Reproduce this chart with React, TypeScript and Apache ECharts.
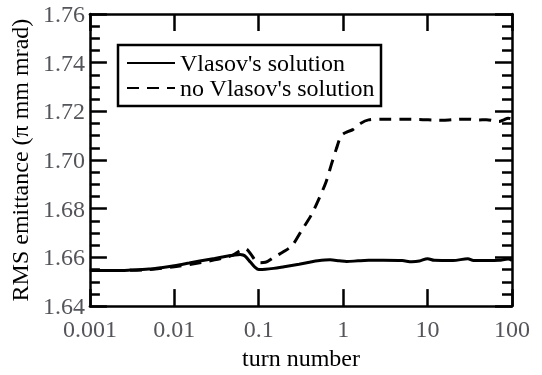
import React, { useEffect, useRef } from "react";
import * as echarts from "echarts";

// Turn numbers (log scale) and RMS emittance for both runs
const solidTurns = [0.001, 0.002, 0.003, 0.005, 0.007, 0.01, 0.015, 0.02, 0.03, 0.04, 0.05, 0.06, 0.065, 0.07, 0.08, 0.09, 0.1, 0.12, 0.15, 0.2, 0.3, 0.4, 0.5, 0.7, 0.9, 1.1, 1.5, 2, 3, 5, 6.5, 8, 10, 12, 20, 30, 35, 50, 70, 90, 100];
const solidEmittance = [1.6546, 1.6546, 1.6548, 1.6552, 1.6558, 1.6566, 1.6577, 1.6585, 1.6596, 1.6604, 1.6609, 1.6612, 1.661, 1.6603, 1.658, 1.656, 1.655, 1.6551, 1.6555, 1.6562, 1.6572, 1.658, 1.6586, 1.659, 1.6586, 1.6583, 1.6586, 1.6588, 1.6588, 1.6587, 1.6582, 1.6585, 1.6595, 1.6588, 1.6587, 1.6595, 1.6587, 1.6587, 1.6588, 1.6593, 1.6588];

const dashTurns = [0.001, 0.003, 0.005, 0.01, 0.02, 0.03, 0.04, 0.05, 0.06, 0.07, 0.08, 0.09, 0.1, 0.12, 0.15, 0.2, 0.25, 0.32, 0.42, 0.52, 0.63, 0.72, 0.83, 0.95, 1.1, 1.3, 1.6, 2, 3, 5, 8, 12, 15, 20, 30, 40, 50, 60, 70, 80, 90, 100];
const dashEmittance = [1.6546, 1.6547, 1.655, 1.6562, 1.6578, 1.659, 1.66, 1.661, 1.6628, 1.6635, 1.6615, 1.659, 1.6578, 1.658, 1.66, 1.6625, 1.665, 1.6709, 1.6775, 1.6843, 1.6912, 1.6978, 1.7046, 1.71, 1.7115, 1.7125, 1.715, 1.7165, 1.7168, 1.7168, 1.7167, 1.7164, 1.7163, 1.7166, 1.7168, 1.7165, 1.7166, 1.7162, 1.7158, 1.7165, 1.7172, 1.7168];

const xTickLabels = ["0.001", "0.01", "0.1", "1", "10", "100"];
const yTicks = [1.64, 1.66, 1.68, 1.7, 1.72, 1.74, 1.76];

const seriesNames = ["Vlasov's solution", "no Vlasov's solution"];

const INK = "#000";
const FONT = "serif";

export default function App() {
  const ref = useRef<HTMLDivElement>(null);

  useEffect(() => {
    if (!ref.current) return;
    const chart = echarts.init(ref.current, undefined, { renderer: "svg" });

    const axisLine = { show: true, lineStyle: { color: INK, width: 2.5 } };
    const tick = { show: true, inside: true, length: 17, lineStyle: { color: INK, width: 2.5 } };
    const yMinor = { show: true, splitNumber: 4, length: 10, lineStyle: { color: INK, width: 2.5 } };

    const xBase = {
      type: "log" as const,
      logBase: 10,
      min: 0.001,
      max: 100,
      axisLine,
      axisTick: tick,
      splitLine: { show: false },
    };
    const yBase = {
      type: "value" as const,
      min: yTicks[0],
      max: yTicks[yTicks.length - 1],
      interval: 0.02,
      axisLine,
      axisTick: tick,
      minorTick: yMinor,
      splitLine: { show: false },
    };

    chart.setOption({
      animation: false,
      grid: { left: 87, right: 30, top: 14, bottom: 66 },
      legend: {
        orient: "vertical",
        left: 118,
        top: 45,
        data: seriesNames,
        itemWidth: 48,
        itemHeight: 14,
        itemGap: 1,
        padding: [6, 6, 6, 8],
        borderColor: INK,
        borderWidth: 2.5,
        itemStyle: { opacity: 0 },
        textStyle: { fontFamily: FONT, fontSize: 24, color: INK },
      },
      xAxis: [
        {
          ...xBase,
          position: "bottom",
          name: "turn number",
          nameLocation: "middle",
          nameGap: 35,
          nameTextStyle: { fontFamily: FONT, fontSize: 24 },
          axisLabel: {
            fontFamily: FONT,
            fontSize: 24,
            margin: 11,
            formatter: (v: number) => xTickLabels[Math.round(Math.log10(v)) + 3] ?? "",
          },
        },
        { ...xBase, position: "top", axisLabel: { show: false } },
      ],
      yAxis: [
        {
          ...yBase,
          position: "left",
          name: "RMS emittance (π mm mrad)",
          nameLocation: "middle",
          nameGap: 52,
          nameTextStyle: { fontFamily: FONT, fontSize: 24 },
          axisLabel: {
            fontFamily: FONT,
            fontSize: 24,
            margin: 5,
            formatter: (v: number) => v.toFixed(2),
          },
        },
        { ...yBase, position: "right", axisLabel: { show: false } },
      ],
      series: [
        {
          name: seriesNames[0],
          type: "line",
          symbol: "none",
          smooth: 0.3,
          lineStyle: { color: INK, width: 3 },
          itemStyle: { color: INK },
          data: solidTurns.map((t, i) => [t, solidEmittance[i]]),
        },
        {
          name: seriesNames[1],
          type: "line",
          symbol: "none",
          smooth: 0.3,
          lineStyle: { color: INK, width: 3, type: [12, 8] },
          itemStyle: { color: INK },
          data: dashTurns.map((t, i) => [t, dashEmittance[i]]),
        },
      ],
    });

    return () => chart.dispose();
  }, []);

  return (
    <div
      ref={ref}
      style={{ position: "fixed", left: 0, top: 0, width: 542, height: 375 }}
    />
  );
}
